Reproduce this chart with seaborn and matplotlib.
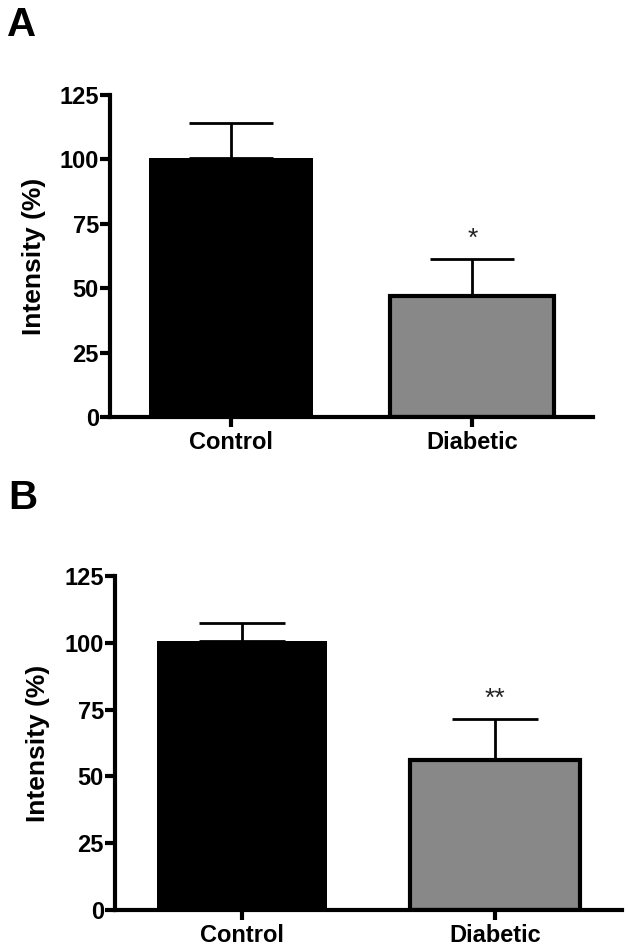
import numpy as np
import pandas as pd
import matplotlib
matplotlib.use("Agg")
import matplotlib.pyplot as plt
import seaborn as sns

# Values (mean and upper error bar)
groups = ["Control", "Diabetic"]
means_a = [100.5, 47.0]
errs_a = [13.5, 14.5]
means_b = [100.5, 56.0]
errs_b = [7.0, 15.5]
stars_a = ["", "*"]
stars_b = ["", "**"]
bar_colors = ["#000000", "#888888"]
yticks = [0, 25, 50, 75, 100, 125]

sns.set_style("ticks")
plt.rcParams["font.family"] = ["Liberation Sans", "DejaVu Sans"]
plt.rcParams.update({"text.color": "black", "axes.labelcolor": "black",
                     "xtick.color": "black", "ytick.color": "black",
                     "axes.edgecolor": "black"})

fig = plt.figure(figsize=(6.29, 9.51), dpi=100)
ax_a = fig.add_axes([110 / 629, 1 - 417 / 951, 483 / 629, 322 / 951])
ax_b = fig.add_axes([115 / 629, 1 - 910 / 951, 507 / 629, 334 / 951])


def draw_panel(ax, means, errs, stars, width, capsize):
    df = pd.DataFrame({"group": groups, "mean": means})
    sns.barplot(data=df, x="group", y="mean", hue="group", palette=bar_colors,
                width=width, legend=False, ax=ax, errorbar=None, saturation=1)
    for i, patch in enumerate(ax.patches):
        patch.set_edgecolor("black")
        patch.set_linewidth(0 if i == 0 else 3)
    ax.errorbar(range(len(groups)), means, yerr=[[0] * len(errs), errs],
                fmt="none", ecolor="black", elinewidth=2, capsize=capsize,
                capthick=2, zorder=1)
    for i, s in enumerate(stars):
        if s:
            ax.text(i, means[i] + errs[i] + 3, s, ha="center", va="bottom",
                    fontsize=19, color="#222222")
    ax.set_xlim(-0.5, 1.5)
    ax.set_ylim(0, 125)
    ax.set_yticks(yticks)
    ax.set_xlabel("")
    ax.set_ylabel("Intensity (%)", fontsize=19, fontweight="bold", labelpad=10)
    sns.despine(ax=ax)
    for sp in ["left", "bottom"]:
        ax.spines[sp].set_linewidth(3)
    ax.tick_params(axis="both", width=3, length=7, pad=1)
    ax.tick_params(axis="y", labelsize=17)
    ax.tick_params(axis="x", labelsize=17, pad=3)
    for lbl in ax.get_xticklabels() + ax.get_yticklabels():
        lbl.set_fontweight("bold")


draw_panel(ax_a, means_a, errs_a, stars_a, 0.68, 30)
draw_panel(ax_b, means_b, errs_b, stars_b, 0.67, 31)

fig.text(7 / 629, 1 - 6 / 951, "A", fontsize=29, fontweight="bold", va="top")
fig.text(8 / 629, 1 - 479 / 951, "B", fontsize=29, fontweight="bold", va="top")

fig.savefig("out.png", dpi=100)
